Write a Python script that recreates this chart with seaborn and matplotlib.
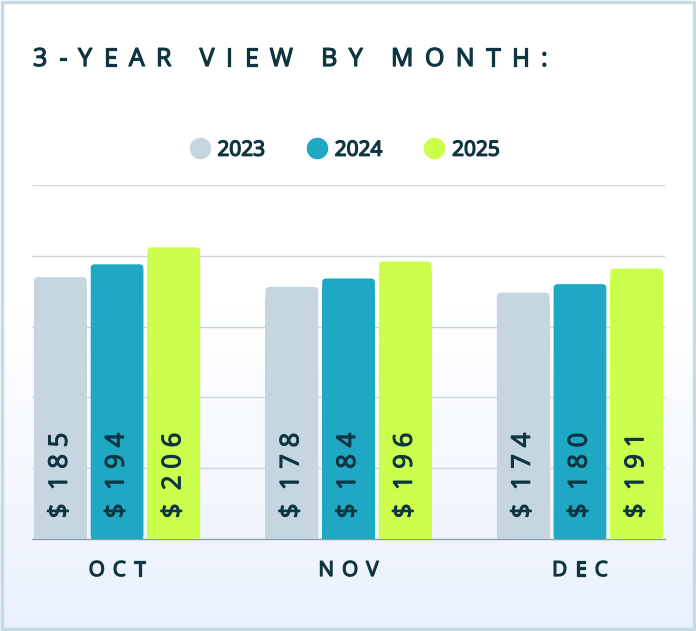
import numpy as np
import pandas as pd
import seaborn as sns
import matplotlib.pyplot as plt
import matplotlib.patheffects as pe
from matplotlib.lines import Line2D
from matplotlib.patches import Rectangle, FancyBboxPatch

months = ['OCT', 'NOV', 'DEC']
years = ['2023', '2024', '2025']
vals_2023 = [185, 178, 174]
vals_2024 = [194, 184, 180]
vals_2025 = [206, 196, 191]
colors = ['#C5D6E1', '#1EA8C4', '#CCFF4D']
text_col = '#0E3540'
title = '3-YEAR VIEW BY MONTH:'

data = pd.DataFrame({
    'month': months * 3,
    'year': [y for y in years for _ in months],
    'price': vals_2023 + vals_2024 + vals_2025,
})

sns.set_style('white')
plt.rcParams['font.family'] = ['Open Sans', 'DejaVu Sans']

W, H = 696, 631
fig = plt.figure(figsize=(W / 100, H / 100), dpi=100)
renderer = fig.canvas.get_renderer()


def thick(w):
    return [pe.withStroke(linewidth=w, foreground=text_col)]


def spaced_text(s, x_px, y_px, spacing, align='left', **kw):
    # draw text letter by letter with extra spacing (pixels)
    widths = []
    for ch in s:
        if ch == ' ':
            widths.append(0.3 * kw['fontsize'])
        else:
            tt = fig.text(0, 0, ch, **kw)
            widths.append(tt.get_window_extent(renderer).width)
            tt.remove()
    total = sum(widths) + spacing * (len(s) - 1)
    x = x_px - total / 2 if align == 'center' else x_px
    for ch, wd in zip(s, widths):
        if ch != ' ':
            fig.text(x / W, 1 - y_px / H, ch, ha='left', va='baseline', **kw)
        x += wd + spacing


# background gradient (white -> light blue) with border
bg = fig.add_axes([0, 0, 1, 1], zorder=-10)
ys = np.linspace(0, 1, 200)
t = np.clip((ys - 0.48) / 0.52, 0, 1)
top = np.array([1.0, 1.0, 1.0])
bot = np.array([0.918, 0.945, 0.992])
img = top[None, :] * (1 - t[:, None]) + bot[None, :] * t[:, None]
bg.imshow(img[:, None, :], aspect='auto', extent=[0, 1, 0, 1], origin='upper')
bg.add_patch(Rectangle((0.003, 0.003), 0.994, 0.994, fill=False,
                       edgecolor='#C7D9E3', lw=2.5, transform=bg.transAxes))
bg.set_xlim(0, 1)
bg.set_ylim(0, 1)
bg.axis('off')

ax = fig.add_axes([0.0460, 0.1458, 0.9095, 0.561])
ax.patch.set_alpha(0)
sns.barplot(data=data, x='month', y='price', hue='year', palette=colors,
            width=0.735, gap=0.07, saturation=1, ax=ax, legend=False, zorder=3)

ax.set_ylim(0, 250)
ax.set_xlim(-0.3675, 2.3675)
ax.set_yticks([50, 100, 150, 200, 250])
ax.yaxis.grid(True, color='#CCD6DC', lw=1, zorder=0)
ax.set_yticklabels([])
ax.tick_params(left=False, bottom=False)
for s in ['top', 'right', 'left']:
    ax.spines[s].set_visible(False)
ax.spines['bottom'].set_color('#8E9EA8')
ax.spines['bottom'].set_linewidth(1)
ax.set_xlabel('')
ax.set_ylabel('')
ax.set_xticks(range(len(months)))
ax.set_xticklabels([])

# rounded top corners: data units per pixel in x and y
bbox = ax.get_position()
xpp = (ax.get_xlim()[1] - ax.get_xlim()[0]) / (bbox.width * W)
ypp = (ax.get_ylim()[1] - ax.get_ylim()[0]) / (bbox.height * H)
r_px = 4
for bar in list(ax.patches):
    h = bar.get_height()
    if h <= 0:
        continue
    x0, w = bar.get_x(), bar.get_width()
    c = bar.get_facecolor()
    bar.set_visible(False)
    ax.add_patch(FancyBboxPatch((x0, 0), w, h,
                                boxstyle=f'round,pad=0,rounding_size={r_px * xpp}',
                                mutation_aspect=ypp / xpp, fc=c, ec='none', zorder=3))
    ax.add_patch(Rectangle((x0, 0), w, h - 3 * r_px * ypp, fc=c, ec='none', zorder=3))
    label = '$  ' + ' '.join(str(int(round(h))))
    ax.annotate(label, (x0 + w / 2, 0), xytext=(0, 15), textcoords='offset points',
                rotation=90, ha='center', va='bottom', fontsize=18.5,
                color=text_col, zorder=5, path_effects=thick(0.8))

# month labels, letter-spaced
for i, m in enumerate(months):
    cx = ax.transData.transform((i, 0))[0]
    spaced_text(m, cx, 576, 8, align='center', fontsize=15, color=text_col,
                path_effects=thick(0.9))

# letter-spaced title
spaced_text(title, 33, 66, 11.4, fontsize=18, color=text_col,
            path_effects=thick(0.9))

handles = [Line2D([0], [0], marker='o', color='none', markerfacecolor=c,
                  markeredgecolor=c, markersize=14.5) for c in colors]
leg = fig.legend(handles, years, loc='center', bbox_to_anchor=(0.495, 0.762),
                 ncol=3, frameon=False, prop={'size': 15},
                 labelcolor=text_col, handletextpad=0.35, columnspacing=2.0,
                 handlelength=1.0)
for txt in leg.get_texts():
    txt.set_path_effects(thick(1.0))

fig.savefig('out.png', dpi=100)
